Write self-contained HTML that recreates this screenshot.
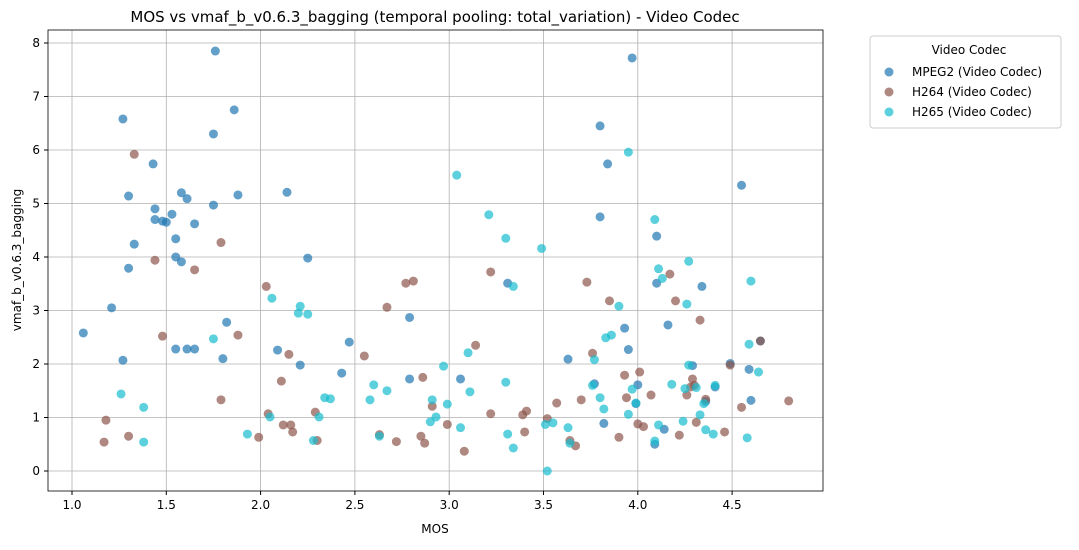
<!DOCTYPE html>
<html><head><meta charset="utf-8"><style>
body{margin:0;background:#fff;font-family:"Liberation Sans","DejaVu Sans",sans-serif;}
svg text{font-family:"DejaVu Sans","Liberation Sans",sans-serif;}
</style></head><body>
<svg id="chart" width="1079" height="545" xmlns="http://www.w3.org/2000/svg">
<rect width="1079" height="545" fill="#fff"/>
<text x="435" y="22" text-anchor="middle" font-size="15">MOS vs vmaf_b_v0.6.3_bagging (temporal pooling: total_variation) - Video Codec</text>
<g id="grid"></g><g id="marks"></g><g id="axes"></g>
<text x="435" y="533" text-anchor="middle" font-size="12">MOS</text>
<text transform="translate(21,260) rotate(-90)" text-anchor="middle" font-size="12">vmaf_b_v0.6.3_bagging</text>
<g>
<rect x="870" y="36" width="191" height="92" fill="#fff" stroke="#ccc" rx="3"/>
<text x="969" y="54" text-anchor="middle" font-size="12">Video Codec</text>
<circle cx="889" cy="72" r="4.5" fill="#1f77b4" fill-opacity="0.7"/><text x="912" y="76" font-size="12">MPEG2 (Video Codec)</text>
<circle cx="889" cy="92" r="4.5" fill="#8c564b" fill-opacity="0.7"/><text x="912" y="96" font-size="12">H264 (Video Codec)</text>
<circle cx="889" cy="112" r="4.5" fill="#17becf" fill-opacity="0.7"/><text x="912" y="116" font-size="12">H265 (Video Codec)</text>
</g>
</svg>
<script>
const xTicks=[1.0,1.5,2.0,2.5,3.0,3.5,4.0,4.5];
const yTicks=[0,1,2,3,4,5,6,7,8];
const mpeg2X=[1.06,1.21,1.27,1.27,1.30,1.30,1.33,1.43,1.44,1.44,1.48,1.50,1.53,1.55,1.55,1.55,1.58,1.58,1.61,1.61,1.65,1.65,1.75,1.76,1.75,1.80,1.82,1.86,1.88,2.09,2.14,2.21,2.25,2.43,2.47,2.79,2.79,3.06,3.31,3.63,3.80,3.80,3.82,3.84,3.93,3.95,3.97,3.99,4.00,4.09,4.10,4.10,4.14,4.16,4.29,4.34,4.41,4.49,4.55,4.59,4.60,4.65,3.77,4.36];
const mpeg2Y=[2.58,3.05,6.58,2.07,5.14,3.79,4.24,5.74,4.90,4.70,4.67,4.65,4.80,4.34,4.00,2.28,3.91,5.20,2.28,5.09,4.62,2.28,4.97,7.85,6.30,2.10,2.78,6.75,5.16,2.26,5.21,1.98,3.98,1.83,2.41,2.87,1.72,1.72,3.51,2.09,6.45,4.75,0.89,5.74,2.67,2.27,7.72,1.26,1.61,0.50,4.39,3.51,0.78,2.73,1.97,3.45,1.57,2.01,5.34,1.90,1.32,2.43,1.63,1.30];
const h264X=[1.17,1.18,1.30,1.33,1.44,1.48,1.65,1.79,1.79,1.88,1.99,2.03,2.04,2.11,2.12,2.15,2.16,2.17,2.29,2.30,2.55,2.63,2.67,2.72,2.77,2.81,2.85,2.86,2.87,2.91,2.99,3.08,3.14,3.22,3.22,3.39,3.40,3.41,3.52,3.57,3.64,3.67,3.70,3.73,3.76,3.85,3.90,3.93,3.94,4.00,4.01,4.03,4.07,4.17,4.20,4.22,4.26,4.28,4.29,4.30,4.31,4.33,4.36,4.46,4.49,4.55,4.65,4.80];
const h264Y=[0.54,0.95,0.65,5.92,3.94,2.52,3.76,4.27,1.33,2.54,0.63,3.45,1.07,1.68,0.86,2.18,0.86,0.73,1.10,0.57,2.15,0.68,3.06,0.55,3.51,3.55,0.65,1.75,0.52,1.21,0.87,0.37,2.35,3.72,1.07,1.05,0.73,1.12,0.98,1.27,0.57,0.47,1.33,3.53,2.20,3.18,0.63,1.79,1.37,0.88,1.85,0.83,1.42,3.68,3.18,0.67,1.42,1.57,1.72,1.60,0.91,2.82,1.34,0.73,1.98,1.19,2.43,1.31];
const h265X=[1.26,1.38,1.38,1.75,1.93,2.05,2.06,2.20,2.21,2.25,2.28,2.31,2.34,2.37,2.58,2.60,2.63,2.67,2.90,2.91,2.93,2.97,2.99,3.04,3.06,3.10,3.11,3.21,3.30,3.30,3.31,3.34,3.34,3.49,3.51,3.52,3.55,3.63,3.64,3.76,3.77,3.80,3.82,3.83,3.86,3.90,3.95,3.95,3.97,3.99,4.09,4.09,4.11,4.11,4.13,4.18,4.24,4.25,4.26,4.27,4.27,4.31,4.33,4.35,4.36,4.40,4.41,4.58,4.59,4.60,4.64];
const h265Y=[1.44,1.19,0.54,2.47,0.69,1.01,3.23,2.95,3.08,2.93,0.57,1.01,1.37,1.35,1.33,1.61,0.65,1.50,0.92,1.33,1.01,1.96,1.25,5.53,0.81,2.21,1.48,4.79,4.35,1.66,0.69,3.45,0.43,4.16,0.87,0.00,0.90,0.81,0.52,1.60,2.08,1.37,1.16,2.49,2.54,3.08,1.06,5.96,1.53,1.27,4.70,0.56,0.86,3.78,3.60,1.62,0.93,1.54,3.12,3.92,1.98,1.56,1.05,1.26,0.77,0.69,1.60,0.62,2.37,3.55,1.85];

const NS="http://www.w3.org/2000/svg";
const L=48,R=823,T=30,B=491;
const xs=v=>72+(v-1)*188.6;
const ys=v=>471-v*53.5;
function mk(tag,attrs,parent){const e=document.createElementNS(NS,tag);for(const k in attrs)e.setAttribute(k,attrs[k]);parent.appendChild(e);return e;}
const grid=document.getElementById('grid'),axes=document.getElementById('axes'),marks=document.getElementById('marks');
xTicks.forEach(t=>{const x=xs(t);
 const g=mk('line',{x1:x,x2:x,y1:T,y2:B,stroke:'#b0b0b0','stroke-width':0.8},grid);
 
 
 mk('line',{x1:x,x2:x,y1:B,y2:B+4,stroke:'#000'},axes);
 const tx=mk('text',{x:x,y:B+18,'text-anchor':'middle','font-size':12},axes);tx.textContent=t.toFixed(1);
 
 
});
yTicks.forEach(t=>{const y=ys(t);
 const g=mk('line',{x1:L,x2:R,y1:y,y2:y,stroke:'#b0b0b0','stroke-width':0.8},grid);
 
 
 mk('line',{x1:L-4,x2:L,y1:y,y2:y,stroke:'#000'},axes);
 const tx=mk('text',{x:L-8,y:y+4,'text-anchor':'end','font-size':12},axes);tx.textContent=t;
 
 
});
const fr=mk('rect',{x:L,y:T,width:R-L,height:B-T,fill:'none',stroke:'#000','stroke-width':0.8},axes);


function series(X,Y,color,name){X.forEach((v,i)=>{
 const c=mk('circle',{cx:xs(v),cy:ys(Y[i]),r:4.5,fill:color,'fill-opacity':0.7},marks);
 
 
});}
series(mpeg2X,mpeg2Y,'#1f77b4','mpeg2-point');
series(h264X,h264Y,'#8c564b','h264-point');
series(h265X,h265Y,'#17becf','h265-point');
</script>
</body></html>
